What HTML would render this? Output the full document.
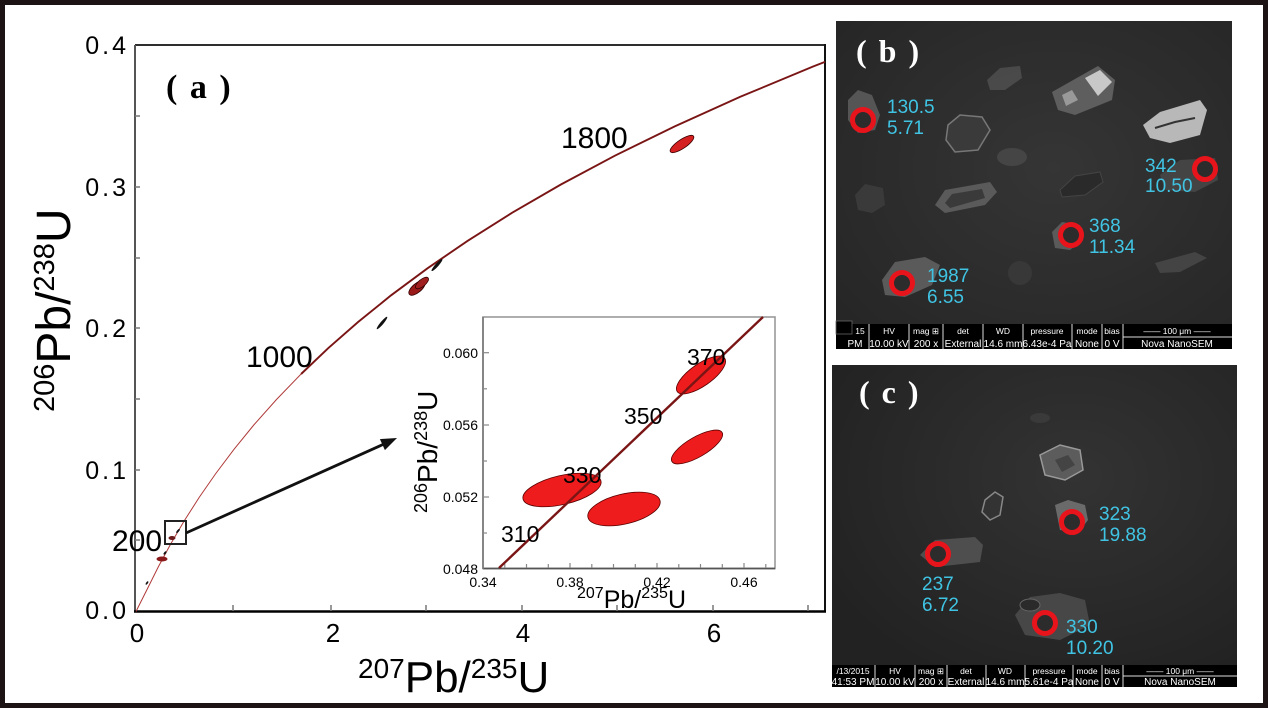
<!DOCTYPE html>
<html>
<head>
<meta charset="utf-8">
<style>
html,body{margin:0;padding:0;background:#fff;}
svg{display:block;}
text{font-family:"Liberation Sans",sans-serif;}
.serif{font-family:"Liberation Serif",serif;font-weight:bold;}
.cy{fill:#40c4e4;font-size:19px;}
.bar1{fill:#fff;font-size:8.5px;}
.bar2{fill:#fff;font-size:10px;}
</style>
</head>
<body>
<svg width="1268" height="708" viewBox="0 0 1268 708" xmlns="http://www.w3.org/2000/svg">
<defs>
<radialGradient id="gb" cx="0.55" cy="0.45" r="0.7">
<stop offset="0" stop-color="#353535"/>
<stop offset="1" stop-color="#262626"/>
</radialGradient>
<radialGradient id="gc" cx="0.6" cy="0.35" r="0.7">
<stop offset="0" stop-color="#333333"/>
<stop offset="1" stop-color="#222222"/>
</radialGradient>
</defs>
<rect x="0" y="0" width="1268" height="708" fill="#fff"/>

<!-- ===== MAIN CHART ===== -->
<!-- frame -->
<line x1="135" y1="45" x2="825" y2="45" stroke="#111" stroke-width="1.8"/>
<line x1="825" y1="44" x2="825" y2="612" stroke="#111" stroke-width="2"/>
<line x1="135" y1="45" x2="135" y2="612" stroke="#555" stroke-width="2"/>
<line x1="134" y1="611.5" x2="826" y2="611.5" stroke="#000" stroke-width="2.6"/>
<!-- y ticks -->
<g stroke="#777" stroke-width="1.5">
<line x1="135" y1="540" x2="140" y2="540"/>
<line x1="135" y1="470" x2="140" y2="470"/>
<line x1="135" y1="399" x2="140" y2="399"/>
<line x1="135" y1="328" x2="140" y2="328"/>
<line x1="135" y1="258" x2="140" y2="258"/>
<line x1="135" y1="187" x2="140" y2="187"/>
<line x1="135" y1="116" x2="140" y2="116"/>
</g>
<!-- x ticks -->
<g stroke="#777" stroke-width="1.5">
<line x1="233" y1="611" x2="233" y2="605"/>
<line x1="331" y1="611" x2="331" y2="605"/>
<line x1="426" y1="611" x2="426" y2="605"/>
<line x1="522" y1="611" x2="522" y2="605"/>
<line x1="617" y1="611" x2="617" y2="605"/>
<line x1="713" y1="611" x2="713" y2="605"/>
<line x1="808" y1="611" x2="808" y2="605"/>
</g>
<!-- y tick labels -->
<g font-size="25" text-anchor="end" fill="#000" letter-spacing="3">
<text x="129" y="54">0.4</text>
<text x="129" y="196">0.3</text>
<text x="129" y="337">0.2</text>
<text x="129" y="479">0.1</text>
<text x="129" y="619">0.0</text>
</g>
<!-- x tick labels -->
<g font-size="26" text-anchor="middle" fill="#000">
<text x="137" y="642">0</text>
<text x="333" y="642">2</text>
<text x="523" y="642">4</text>
<text x="714" y="642">6</text>
</g>
<!-- axis titles -->
<text x="358" y="692" fill="#000"><tspan font-size="28" dy="-14">207</tspan><tspan font-size="44" dy="14">Pb/</tspan><tspan font-size="28" dy="-14">235</tspan><tspan font-size="44" dy="14">U</tspan></text>
<text transform="translate(70,412) rotate(-90)" fill="#000"><tspan font-size="29" dy="-16">206</tspan><tspan font-size="48" dy="16">Pb/</tspan><tspan font-size="29" dy="-16">238</tspan><tspan font-size="48" dy="16">U</tspan></text>

<text x="166" y="98" class="serif" font-size="34" letter-spacing="2">( a )</text>

<!-- concordia -->
<path d="M136,611.5 L147.1,589.4 L158.3,566.9 L170.6,544.1 L184.2,520.9 L199.2,497.4 L215.8,473.5 L234.1,449.2 L254.2,424.5 L276.5,399.5 L301.1,374" fill="none" stroke="#b03a3a" stroke-width="1"/>
<path d="M301.1,374 L328.2,348.2 L358.1,322 L391.1,295.3 L427.5,268.3 L467.7,240.8 L512,212.8 L560.9,184.5 L614.9,155.7 L674.5,126.5 L740.3,96.8 L812.8,66.6 L825,61.9" fill="none" stroke="#7a1515" stroke-width="1.9"/>

<!-- age labels main -->
<g font-size="30" fill="#000">
<text x="246" y="367">1000</text>
<text x="561" y="148">1800</text>
<text x="112" y="551">200</text>
</g>

<!-- main ellipses -->
<ellipse cx="682" cy="144" rx="14" ry="4.5" transform="rotate(-34 682 144)" fill="#d42020" stroke="#3a0000" stroke-width="0.8"/>
<ellipse cx="417" cy="288" rx="10" ry="4.5" transform="rotate(-40 417 288)" fill="#9a1a1a" stroke="#300" stroke-width="0.8"/>
<ellipse cx="422" cy="283" rx="8" ry="3.5" transform="rotate(-40 422 283)" fill="#a02020" stroke="#300" stroke-width="0.8"/>
<ellipse cx="437" cy="265" rx="8" ry="1.6" transform="rotate(-48 437 265)" fill="#111"/>
<ellipse cx="382" cy="323" rx="8" ry="1.5" transform="rotate(-50 382 323)" fill="#111"/>
<ellipse cx="162" cy="559" rx="5.5" ry="2.5" fill="#8a1a1a"/>
<ellipse cx="172" cy="538" rx="3.5" ry="2" fill="#6a1a1a"/>
<ellipse cx="178" cy="531" rx="2.5" ry="1" transform="rotate(-50 178 531)" fill="#111"/>
<ellipse cx="165" cy="553" rx="2" ry="1" transform="rotate(-50 165 553)" fill="#111"/>
<ellipse cx="147" cy="583" rx="2" ry="0.9" transform="rotate(-55 147 583)" fill="#111"/>

<!-- zoom box and arrow -->
<rect x="165" y="521" width="21" height="23" fill="none" stroke="#222" stroke-width="2"/>
<line x1="186" y1="533" x2="383" y2="444.5" stroke="#111" stroke-width="2.8"/>
<polygon points="397,438 384.9,450.1 379.9,439.1" fill="#111"/>

<!-- ===== INSET ===== -->
<rect x="483" y="317" width="292" height="251.5" fill="#fff" stroke="#999" stroke-width="1.6"/>
<line x1="483" y1="568.5" x2="775" y2="568.5" stroke="#555" stroke-width="1.8"/>
<line x1="483" y1="317" x2="483" y2="569" stroke="#777" stroke-width="1.6"/>
<g stroke="#888" stroke-width="1.2">
<line x1="483" y1="352.7" x2="489" y2="352.7"/>
<line x1="483" y1="388.8" x2="487" y2="388.8"/>
<line x1="483" y1="425" x2="489" y2="425"/>
<line x1="483" y1="461" x2="487" y2="461"/>
<line x1="483" y1="497" x2="489" y2="497"/>
<line x1="483" y1="533" x2="487" y2="533"/>
<line x1="504.8" y1="568" x2="504.8" y2="564"/>
<line x1="526.5" y1="568" x2="526.5" y2="564"/>
<line x1="548.3" y1="568" x2="548.3" y2="564"/>
<line x1="570" y1="568" x2="570" y2="563"/>
<line x1="591.8" y1="568" x2="591.8" y2="564"/>
<line x1="613.5" y1="568" x2="613.5" y2="564"/>
<line x1="635.3" y1="568" x2="635.3" y2="564"/>
<line x1="657" y1="568" x2="657" y2="563"/>
<line x1="678.8" y1="568" x2="678.8" y2="564"/>
<line x1="700.5" y1="568" x2="700.5" y2="564"/>
<line x1="722.3" y1="568" x2="722.3" y2="564"/>
<line x1="744" y1="568" x2="744" y2="563"/>
<line x1="765.8" y1="568" x2="765.8" y2="564"/>
</g>
<g font-size="14" fill="#000" text-anchor="end">
<text x="478" y="358">0.060</text>
<text x="478" y="430">0.056</text>
<text x="478" y="502">0.052</text>
<text x="478" y="574">0.048</text>
</g>
<g font-size="14" fill="#000" text-anchor="middle">
<text x="483" y="587">0.34</text>
<text x="570" y="587">0.38</text>
<text x="657" y="587">0.42</text>
<text x="744" y="587">0.46</text>
</g>
<text x="577" y="608" fill="#000"><tspan font-size="16" dy="-10">207</tspan><tspan font-size="25" dy="10">Pb/</tspan><tspan font-size="16" dy="-10">235</tspan><tspan font-size="25" dy="10">U</tspan></text>
<text transform="translate(437,513) rotate(-90)" fill="#000"><tspan font-size="18" dy="-10">206</tspan><tspan font-size="28" dy="10">Pb/</tspan><tspan font-size="18" dy="-10">238</tspan><tspan font-size="28" dy="10">U</tspan></text>

<!-- inset ellipses -->
<ellipse cx="562" cy="490" rx="40" ry="14.5" transform="rotate(-13 562 490)" fill="#ee1c1c" stroke="#5a0000" stroke-width="0.8"/>
<ellipse cx="624" cy="509" rx="37" ry="15" transform="rotate(-13 624 509)" fill="#ee1c1c" stroke="#5a0000" stroke-width="0.8"/>
<ellipse cx="697" cy="447" rx="29" ry="10" transform="rotate(-30 697 447)" fill="#ee1c1c" stroke="#5a0000" stroke-width="0.8"/>
<ellipse cx="701" cy="375" rx="29" ry="11" transform="rotate(-35 701 375)" fill="#ee1c1c" stroke="#5a0000" stroke-width="0.8"/>
<!-- inset concordia -->
<line x1="499" y1="568" x2="763" y2="317" stroke="#7a1515" stroke-width="2.4"/>
<g font-size="23" fill="#000">
<text x="501" y="542">310</text>
<text x="563" y="483">330</text>
<text x="624" y="424">350</text>
<text x="687" y="365">370</text>
</g>

<!-- ===== PANEL B ===== -->
<rect x="836" y="21" width="396" height="327" fill="url(#gb)"/>
<g>
<polygon points="987,80 1000,68 1020,66 1022,78 1005,90 990,90" fill="#555" opacity="0.7"/>
<polygon points="1052,92 1098,66 1115,80 1112,100 1075,115 1058,110" fill="#5e5e5e"/>
<polygon points="1085,78 1100,70 1112,82 1098,96" fill="#c8c8c8"/>
<polygon points="1062,95 1072,90 1078,100 1066,106" fill="#999"/>
<polygon points="1143,125 1160,112 1200,100 1207,110 1200,135 1170,143 1150,138" fill="#b8b8b8"/>
<polyline points="1155,128 1175,122 1195,118" fill="none" stroke="#333" stroke-width="2"/>
<polygon points="948,125 960,115 982,117 990,130 978,150 955,152 946,140" fill="#3a3a3a" stroke="#777" stroke-width="1.5"/>
<ellipse cx="1012" cy="157" rx="15" ry="9" fill="#454545"/>
<polygon points="935,205 945,190 990,182 997,192 985,205 945,213" fill="#5a5a5a"/>
<polygon points="945,203 952,194 982,189 985,198 950,208" fill="#3a3a3a"/>
<polygon points="855,195 865,184 883,188 885,205 872,213 858,210" fill="#3a3a3a"/>
<polygon points="1060,190 1075,176 1100,172 1103,182 1085,195 1062,197" fill="#2a2a2a" stroke="#444"/>
<polygon points="848,100 858,90 872,95 880,115 875,130 858,133 848,120" fill="#555"/>
<polygon points="1052,232 1062,222 1080,225 1083,240 1070,250 1055,248" fill="#5a5a5a"/>
<polygon points="882,280 895,262 925,257 940,265 932,285 905,297 885,295" fill="#5a5a5a"/>
<polygon points="1160,175 1180,160 1215,158 1218,180 1195,192 1165,190" fill="#444"/>
<polygon points="1155,263 1195,252 1207,258 1180,272 1160,273" fill="#444"/>
<ellipse cx="1020" cy="273" rx="12" ry="12" fill="#383838"/>
</g>
<g fill="#2c2c2c" stroke="#e8141c" stroke-width="5">
<circle cx="863" cy="120" r="10.5"/>
<circle cx="1205" cy="169" r="10.5"/>
<circle cx="1071" cy="235" r="10.5"/>
<circle cx="902" cy="283" r="10.5"/>
</g>
<g class="cy">
<text x="887" y="113" class="cy">130.5</text>
<text x="887" y="134" class="cy">5.71</text>
<text x="1145" y="172" class="cy">342</text>
<text x="1145" y="192" class="cy">10.50</text>
<text x="1089" y="232" class="cy">368</text>
<text x="1089" y="253" class="cy">11.34</text>
<text x="927" y="282" class="cy">1987</text>
<text x="927" y="303" class="cy">6.55</text>
</g>
<text x="856" y="62" class="serif" font-size="32" fill="#fff" letter-spacing="2">( b )</text>
<!-- info bar b -->
<rect x="836" y="324" width="396" height="25" fill="#000"/>
<g stroke="#ddd" stroke-width="1">
<line x1="869" y1="324" x2="869" y2="349"/>
<line x1="909" y1="324" x2="909" y2="349"/>
<line x1="943" y1="324" x2="943" y2="349"/>
<line x1="983" y1="324" x2="983" y2="349"/>
<line x1="1023" y1="324" x2="1023" y2="349"/>
<line x1="1072" y1="324" x2="1072" y2="349"/>
<line x1="1102" y1="324" x2="1102" y2="349"/>
<line x1="1123" y1="324" x2="1123" y2="349"/>
<line x1="1123" y1="337" x2="1232" y2="337"/>
</g>
<rect x="836" y="321" width="16" height="13" fill="#000" stroke="#666" stroke-width="0.8"/>
<g class="bar1" text-anchor="middle">
<text x="860" y="334">15</text>
<text x="889" y="334">HV</text>
<text x="926" y="334">mag ⊞</text>
<text x="963" y="334">det</text>
<text x="1003" y="334">WD</text>
<text x="1047" y="334">pressure</text>
<text x="1087" y="334">mode</text>
<text x="1112" y="334">bias</text>
<text x="1177" y="334">—— 100 μm ——</text>
</g>
<g class="bar2" text-anchor="middle">
<text x="855" y="347">PM</text>
<text x="889" y="347">10.00 kV</text>
<text x="926" y="347">200 x</text>
<text x="963" y="347">External</text>
<text x="1003" y="347">14.6 mm</text>
<text x="1047" y="347">6.43e-4 Pa</text>
<text x="1087" y="347">None</text>
<text x="1112" y="347">0 V</text>
<text x="1177" y="347">Nova NanoSEM</text>
</g>

<!-- ===== PANEL C ===== -->
<rect x="832" y="365" width="405" height="322" fill="url(#gc)"/>
<g>
<ellipse cx="1040" cy="418" rx="10" ry="5" fill="#3a3a3a"/>
<polygon points="1040,455 1060,445 1080,450 1083,470 1065,480 1045,475" fill="#5c5c5c" stroke="#999" stroke-width="1.5"/>
<polygon points="1055,460 1068,455 1075,465 1062,472" fill="#444"/>
<polygon points="985,500 995,492 1003,497 1000,515 990,520 982,512" fill="#333" stroke="#888" stroke-width="1.5"/>
<polygon points="1055,505 1068,500 1085,505 1088,520 1078,533 1060,530" fill="#6a6a6a"/>
<polygon points="920,555 935,540 975,537 983,545 980,562 935,567" fill="#4e4e4e"/>
<polygon points="1015,615 1030,597 1060,593 1085,600 1090,625 1060,640 1025,635" fill="#474747"/>
<ellipse cx="1030" cy="605" rx="10" ry="6" fill="#2a2a2a" stroke="#666"/>
</g>
<g fill="#2c2c2c" stroke="#e8141c" stroke-width="5">
<circle cx="938" cy="554" r="10.5"/>
<circle cx="1072" cy="522" r="10.5"/>
<circle cx="1045" cy="623" r="10.5"/>
</g>
<g>
<text x="922" y="590" class="cy">237</text>
<text x="922" y="611" class="cy">6.72</text>
<text x="1099" y="520" class="cy">323</text>
<text x="1099" y="541" class="cy">19.88</text>
<text x="1066" y="633" class="cy">330</text>
<text x="1066" y="654" class="cy">10.20</text>
</g>
<text x="859" y="403" class="serif" font-size="32" fill="#fff" letter-spacing="2">( c )</text>
<!-- info bar c -->
<rect x="832" y="665" width="405" height="22" fill="#000"/>
<g stroke="#ddd" stroke-width="1">
<line x1="875" y1="665" x2="875" y2="687"/>
<line x1="915" y1="665" x2="915" y2="687"/>
<line x1="947" y1="665" x2="947" y2="687"/>
<line x1="986" y1="665" x2="986" y2="687"/>
<line x1="1025" y1="665" x2="1025" y2="687"/>
<line x1="1073" y1="665" x2="1073" y2="687"/>
<line x1="1102" y1="665" x2="1102" y2="687"/>
<line x1="1123" y1="665" x2="1123" y2="687"/>
<line x1="1123" y1="676" x2="1237" y2="676"/>
</g>
<g class="bar1" text-anchor="middle">
<text x="853" y="674">/13/2015</text>
<text x="895" y="674">HV</text>
<text x="931" y="674">mag ⊞</text>
<text x="966" y="674">det</text>
<text x="1005" y="674">WD</text>
<text x="1049" y="674">pressure</text>
<text x="1087" y="674">mode</text>
<text x="1112" y="674">bias</text>
<text x="1180" y="674">—— 100 μm ——</text>
</g>
<g class="bar2" text-anchor="middle">
<text x="853" y="685">41:53 PM</text>
<text x="895" y="685">10.00 kV</text>
<text x="931" y="685">200 x</text>
<text x="966" y="685">External</text>
<text x="1005" y="685">14.6 mm</text>
<text x="1049" y="685">5.61e-4 Pa</text>
<text x="1087" y="685">None</text>
<text x="1112" y="685">0 V</text>
<text x="1180" y="685">Nova NanoSEM</text>
</g>

<!-- outer frame -->
<rect x="2.5" y="2.5" width="1263" height="703" fill="none" stroke="#1c1414" stroke-width="5"/>
</svg>
</body>
</html>
